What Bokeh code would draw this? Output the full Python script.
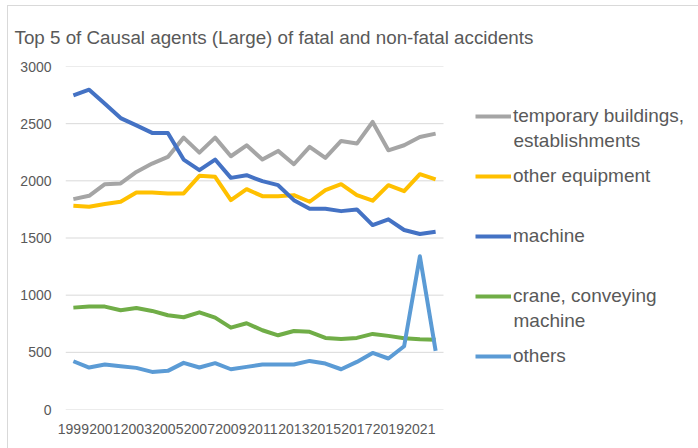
from bokeh.plotting import figure
from bokeh.models import FixedTicker, Legend, LegendItem, Label, Range1d
from bokeh.embed import file_html
from bokeh.resources import INLINE

years = list(range(1999, 2023))
year_ticks = years[::2]
y_ticks = [0, 500, 1000, 1500, 2000, 2500, 3000]

temporary_buildings = [1840, 1869, 1971, 1977, 2078, 2151, 2209, 2378, 2247, 2378, 2215, 2311,
                       2186, 2262, 2145, 2297, 2201, 2349, 2326, 2515, 2267, 2311, 2384, 2413]
other_equipment = [1782, 1773, 1797, 1817, 1898, 1898, 1890, 1890, 2044, 2035, 1831, 1927,
                   1866, 1866, 1875, 1817, 1919, 1971, 1875, 1826, 1962, 1910, 2058, 2012]
machine = [2747, 2797, 2674, 2549, 2485, 2419, 2419, 2186, 2093, 2186, 2026, 2049,
           1997, 1962, 1831, 1756, 1756, 1735, 1750, 1613, 1663, 1570, 1535, 1555]
crane = [891, 900, 900, 868, 888, 862, 824, 807, 850, 804, 716, 754,
         693, 649, 687, 679, 626, 617, 626, 661, 644, 623, 614, 609]
others = [422, 367, 393, 379, 364, 329, 338, 408, 367, 405, 352, 373,
          393, 393, 393, 425, 402, 352, 416, 495, 446, 553, 1340, 513]

series = [
    (["temporary buildings,", "establishments"], temporary_buildings, "#A5A5A5"),
    (["other equipment"], other_equipment, "#FFC000"),
    (["machine"], machine, "#4472C4"),
    (["crane, conveying", "machine"], crane, "#70AD47"),
    (["others"], others, "#5B9BD5"),
]

FONT = "Liberation Sans"
TXT = "#595959"
LEG_PX = 60      # legend row pitch
FRAME_L, FRAME_R = 65, 698
PLOT_R = 443     # right edge of the category area
x_start = years[0] - 0.5
x_end = years[-1] + 0.5
x_range_end = x_start + (x_end - x_start) * (FRAME_R - FRAME_L) / (PLOT_R - FRAME_L)

p = figure(width=698, height=448, output_backend="svg", toolbar_location=None,
           x_range=Range1d(x_start, x_range_end), y_range=Range1d(0, 3000),
           min_border_left=FRAME_L, min_border_right=698 - FRAME_R,
           min_border_top=66, min_border_bottom=39)
p.outline_line_color = None
p.background_fill_color = "white"
p.border_fill_color = None
# chart-area border (light gray, left and top edges visible)
p.styles = {
    "background-color": "white",
    "background-image": "linear-gradient(#D9D9D9, #D9D9D9), linear-gradient(#D9D9D9, #D9D9D9)",
    "background-size": "1px 100%, 100% 1px",
    "background-position": "7px 5px, 7px 5px",
    "background-repeat": "no-repeat",
}
p.xgrid.grid_line_color = None
p.ygrid.grid_line_color = None

# horizontal gridlines over the category area only
p.segment(x0=[x_start] * len(y_ticks), x1=[x_end] * len(y_ticks), y0=y_ticks, y1=y_ticks,
          line_color="#D9D9D9", line_width=1, level="underlay")

p.yaxis.ticker = FixedTicker(ticks=y_ticks)
p.xaxis.ticker = FixedTicker(ticks=year_ticks)
for ax in (p.xaxis[0], p.yaxis[0]):
    ax.axis_line_color = None
    ax.major_tick_line_color = None
    ax.minor_tick_line_color = None
    ax.major_tick_out = 0
    ax.minor_tick_out = 0
    ax.major_label_text_font = FONT
    ax.major_label_text_font_size = "14px"
    ax.major_label_text_color = TXT
p.yaxis.major_label_standoff = 14
p.xaxis.major_label_standoff = 14

p.title.text = "Top 5 of Causal agents (Large) of fatal and non-fatal accidents"
p.title.text_font = FONT
p.title.text_font_size = "18.8px"
p.title.text_font_style = "normal"
p.title.text_color = TXT
p.title.align = "left"
p.title.offset = -51
p.title.standoff = 37

renderers = []
for label, vals, color in series:
    r = p.line(years, vals, line_color=color, line_width=4, line_join="round")
    renderers.append(r)

items = [LegendItem(label=s[0][0], renderers=[r]) for s, r in zip(series, renderers)]
legend = Legend(items=items, location=(475 - FRAME_L, 409 - (116 - LEG_PX // 2 + LEG_PX * 5)),
                glyph_width=36, glyph_height=LEG_PX, label_height=LEG_PX, spacing=0,
                padding=0, margin=0, label_standoff=2,
                label_text_font=FONT, label_text_font_size="19px", label_text_color=TXT,
                border_line_color=None, background_fill_alpha=0)
p.add_layout(legend, "center")

# second lines of two-line legend entries
for k, s in enumerate(series):
    for j, t in enumerate(s[0][1:], start=1):
        y_px = 116 + LEG_PX * k + 24 * j
        p.add_layout(Label(x=513 - FRAME_L, y=409 - y_px, x_units="screen", y_units="screen",
                           text=t, text_font=FONT, text_font_size="19px", text_color=TXT,
                           text_baseline="middle", text_align="left"))

open("out.html", "w").write(file_html(p, INLINE))
